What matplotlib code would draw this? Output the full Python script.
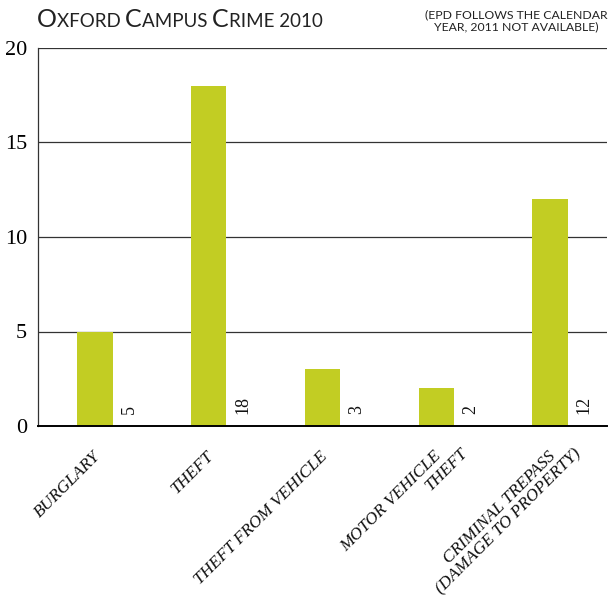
import matplotlib
matplotlib.use("Agg")
import matplotlib.pyplot as plt

categories = [
    ["BURGLARY"],
    ["THEFT"],
    ["THEFT FROM VEHICLE"],
    ["MOTOR VEHICLE", "THEFT"],
    ["CRIMINAL TREPASS", "(DAMAGE TO PROPERTY)"],
]
counts = [5, 18, 3, 2, 12]
y_ticks = [0, 5, 10, 15, 20]

title = "Oxford Campus Crime 2010"
note_lines = ["(epd follows the calendar", "year, 2011 not available)"]

BAR_COLOR = "#c2cd23"
TITLE_FONT = "Lato"


def small_caps(fig, x, y, text, big, small, family, ha="left"):
    # fake small caps: capitals at full size, everything else upper-cased smaller
    runs = []
    for ch in text:
        is_big = ch.isupper()
        if runs and runs[-1][1] == is_big:
            runs[-1][0] += ch
        else:
            runs.append([ch, is_big])
    renderer = fig.canvas.get_renderer()
    pieces = []
    width = 0.0
    for s, is_big in runs:
        t = fig.text(0, y, s.upper(), fontsize=big if is_big else small,
                     family=family, color="#222222", va="baseline", ha="left")
        w = t.get_window_extent(renderer).width / fig.bbox.width
        pieces.append((t, w))
        width += w
    start = x if ha == "left" else x - width
    for t, w in pieces:
        t.set_x(start)
        start += w


fig = plt.figure(figsize=(6.10, 6.02), dpi=100)
ax = fig.add_axes([38 / 610, 1 - 426 / 602, 569 / 610, 378 / 602])

xs = list(range(len(counts)))
ax.bar(xs, counts, width=0.31, color=BAR_COLOR, zorder=2)

for x, v in zip(xs, counts):
    ax.annotate(str(v), xy=(x + 0.3, 0), xytext=(0, 9), textcoords="offset points",
                rotation=90, ha="center", va="bottom", fontsize=13,
                family="Liberation Serif", color="#111111")

# category labels hang off the bar centres, 45 degrees
for x, lines in zip(xs, categories):
    for k, line in enumerate(lines):
        ax.annotate(line, xy=(x, 0), xycoords=("data", "axes fraction"),
                    xytext=(-2 + 18.7 * k, -16 + 2 * k), textcoords="offset points",
                    rotation=45, rotation_mode="anchor", ha="right", va="top",
                    fontsize=12.5, family="Liberation Serif", style="italic",
                    color="#111111")

ax.set_xlim(-0.5, 4.5)
ax.set_ylim(0, 20)
ax.set_xticks([])
ax.set_yticks(y_ticks)
ax.set_yticklabels([str(t) for t in y_ticks], family="Liberation Serif", fontsize=16)
ax.tick_params(axis="y", length=0, pad=8)
ax.yaxis.grid(True, color="#333333", linewidth=0.9, zorder=0)
ax.set_axisbelow(True)
for side in ("top", "right"):
    ax.spines[side].set_visible(False)
ax.spines["left"].set_color("#333333")
ax.spines["left"].set_linewidth(0.9)
ax.spines["bottom"].set_color("#000000")
ax.spines["bottom"].set_linewidth(1.4)

small_caps(fig, 37 / 610, 1 - 27 / 602, title, 18, 13.5, TITLE_FONT)
fig.text(608 / 610, 1 - 9 / 602, "\n".join(note_lines).upper(), ha="right", va="top",
         multialignment="center", fontsize=8.8, family=TITLE_FONT, color="#222222",
         linespacing=1.15)

fig.savefig("out.png", dpi=100)
